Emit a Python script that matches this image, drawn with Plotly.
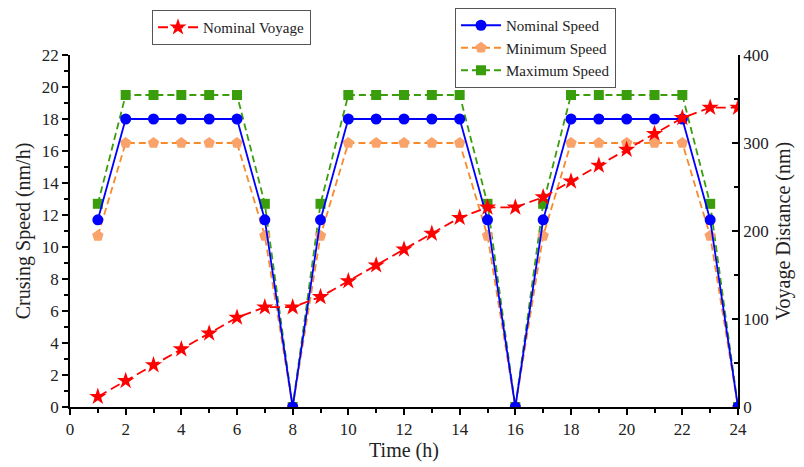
import plotly.graph_objects as go

time_h = list(range(1, 25))
nominal_speed = [11.7, 18, 18, 18, 18, 18, 11.7, 0, 11.7, 18, 18, 18, 18, 18, 11.7, 0,
                 11.7, 18, 18, 18, 18, 18, 11.7, 0]
minimum_speed = [10.7, 16.5, 16.5, 16.5, 16.5, 16.5, 10.7, 0, 10.7, 16.5, 16.5, 16.5, 16.5, 16.5, 10.7, 0,
                 10.7, 16.5, 16.5, 16.5, 16.5, 16.5, 10.7, 0]
maximum_speed = [12.7, 19.5, 19.5, 19.5, 19.5, 19.5, 12.7, 0, 12.7, 19.5, 19.5, 19.5, 19.5, 19.5, 12.7, 0,
                 12.7, 19.5, 19.5, 19.5, 19.5, 19.5, 12.7, 0]
nominal_voyage = [11.7, 29.7, 47.7, 65.7, 83.7, 101.7, 113.4, 113.4, 125.1, 143.1, 161.1, 179.1,
                  197.1, 215.1, 226.8, 226.8, 238.5, 256.5, 274.5, 292.5, 310.5, 328.5, 340.2, 340.2]

FONT = "Liberation Serif, Times New Roman, serif"

fig = go.Figure()
fig.add_trace(go.Scatter(
    x=time_h, y=maximum_speed, name="Maximum Speed", mode="lines+markers",
    line=dict(color="#3a9e0c", width=1.8, dash="7px,4px"),
    marker=dict(symbol="square", size=10, color="#3a9e0c"), legend="legend2"))
fig.add_trace(go.Scatter(
    x=time_h, y=minimum_speed, name="Minimum Speed", mode="lines+markers",
    line=dict(color="#f98a2c", width=1.8, dash="7px,4px"),
    marker=dict(symbol="pentagon", size=12, color="#f9a26a"), legend="legend2"))
fig.add_trace(go.Scatter(
    x=time_h, y=nominal_speed, name="Nominal Speed", mode="lines+markers",
    line=dict(color="#0000ff", width=1.8),
    marker=dict(symbol="circle", size=11, color="#0000ff"), legend="legend2"))
fig.add_trace(go.Scatter(
    x=time_h, y=nominal_voyage, name="Nominal Voyage", mode="lines+markers",
    line=dict(color="#ff0000", width=1.8, dash="10px,5px"),
    marker=dict(symbol="star", size=13, color="#ff0000"), yaxis="y2", legend="legend"))

axis_font = dict(family=FONT, size=20, color="#222")
tick_font = dict(family=FONT, size=17, color="#222")
fig.update_layout(
    width=804, height=467,
    margin=dict(l=62, r=74, t=47, b=68, autoexpand=False),
    paper_bgcolor="white", plot_bgcolor="white",
    font=dict(family=FONT, size=17, color="#222"),
    xaxis=dict(range=[0, 24], tickvals=list(range(0, 25, 2)), showgrid=False, zeroline=False,
               showline=True, linecolor="black", linewidth=1.5, ticks="outside", ticklen=6,
               tickwidth=1.5, tickcolor="black", automargin=False,
               minor=dict(dtick=1, ticks="outside", ticklen=4, tickwidth=1.5, tickcolor="black"),
               title=dict(text="Time (h)", font=axis_font, standoff=4), tickfont=tick_font),
    yaxis=dict(range=[0, 22], dtick=2, showgrid=False, zeroline=False,
               showline=True, linecolor="black", linewidth=1.5, ticks="outside", ticklen=6,
               tickwidth=1.5, tickcolor="black", automargin=False,
               minor=dict(dtick=1, ticks="outside", ticklen=4, tickwidth=1.5, tickcolor="black"),
               title=dict(text="Crusing Speed (nm/h)", font=axis_font, standoff=6), tickfont=tick_font),
    yaxis2=dict(range=[0, 400], dtick=100, overlaying="y", side="right", showgrid=False,
                zeroline=False, showline=True, linecolor="black", linewidth=1.5,
                ticks="inside", ticklen=6, tickwidth=1.5, tickcolor="black", automargin=False,
                minor=dict(dtick=50, ticks="inside", ticklen=4, tickwidth=1.5, tickcolor="black"),
                title=dict(text="Voyage Distance (nm)", font=axis_font, standoff=8), tickfont=tick_font),
    legend=dict(x=(152-70)/668, y=1.0 + 45/352, xanchor="left", yanchor="top",
                bordercolor="#555", borderwidth=1, bgcolor="white",
                font=dict(family=FONT, size=15, color="#222"), tracegroupgap=0,
                itemwidth=40),
    legend2=dict(x=(455-70)/668, y=1.0 + 47/352, xanchor="left", yanchor="top",
                 bordercolor="#555", borderwidth=1, bgcolor="white", traceorder="reversed",
                 font=dict(family=FONT, size=15, color="#222"), tracegroupgap=0,
                 itemwidth=40),
    showlegend=True,
)

fig.write_html("out.html")
